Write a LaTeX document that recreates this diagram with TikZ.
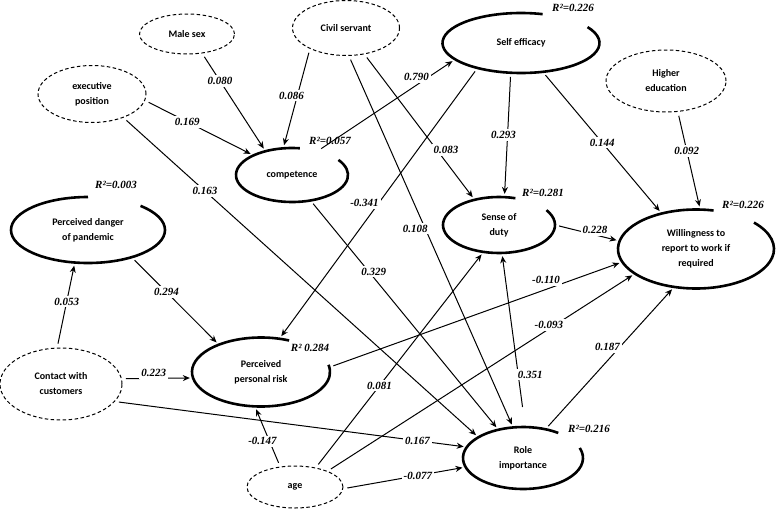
\documentclass[tikz,border=0pt]{standalone}
\usepackage{fontspec}
\setmainfont{Carlito}
\newfontfamily\coeffont{Liberation Serif}
\usetikzlibrary{arrows.meta}
\usetikzlibrary{shapes.geometric}
\tikzset{>={Stealth[length=7pt,width=6pt]}}
\tikzset{
  manifest/.style={ellipse, draw, line width=1pt, dash pattern=on 3.5pt off 2.5pt, inner sep=0pt, align=center, font=\fontsize{10}{15}\selectfont\bfseries},
  latent/.style={ellipse, inner sep=0pt, align=center, font=\fontsize{10}{15}\selectfont\bfseries},
  link/.style={->, line width=1pt, shorten <=4pt, shorten >=3pt},
  coef/.style={font=\coeffont\fontsize{11}{12}\selectfont\bfseries\itshape, fill=white, inner sep=2pt},
  rsq/.style={font=\coeffont\fontsize{11}{12}\selectfont\bfseries\itshape, inner sep=0pt}
}
% thick ring with a gap at top right: name, x radius, y radius, start, end
\newcommand{\latentring}[5]{\draw[line width=2.6pt] (#1.center) ++(#4:#2pt and #3pt) arc[start angle=#4, end angle=#5, x radius=#2pt, y radius=#3pt];}

\begin{document}
\begin{tikzpicture}[x=1pt, y=1pt]
      \useasboundingbox (0,0) rectangle (778,-514);
      % exogenous nodes
      \node[manifest, minimum width=95, minimum height=40] (male) at (187,-34) {Male sex};
      \node[manifest, minimum width=107, minimum height=55] (civil) at (346,-28) {Civil servant};
      \node[manifest, minimum width=108, minimum height=57] (exec) at (92,-94) {executive\\position};
      \node[manifest, minimum width=120, minimum height=62] (higher) at (666,-81) {Higher\\education};
      \node[manifest, minimum width=122, minimum height=72] (contact) at (61,-384) {Contact with\\customers};
      \node[manifest, minimum width=96, minimum height=42] (age) at (295,-487) {age};
      % endogenous nodes
      \node[latent, minimum width=157, minimum height=60] (selfeff) at (521,-43) {Self efficacy};
      \node[latent, minimum width=112, minimum height=54] (comp) at (292,-175) {competence};
      \node[latent, minimum width=154, minimum height=66] (danger) at (88,-230) {Perceived danger\\of pandemic};
      \node[latent, minimum width=112, minimum height=56] (duty) at (499,-225) {Sense of\\duty};
      \node[latent, minimum width=156, minimum height=79] (will) at (696,-249) {Willingness to\\report to work if\\required};
      \node[latent, minimum width=138, minimum height=69] (risk) at (261,-372) {Perceived\\personal risk};
      \node[latent, minimum width=120, minimum height=62] (role) at (523,-458) {Role\\importance};
      \latentring{selfeff}{78.5}{30}{74}{392}
      \latentring{comp}{56}{27}{82}{394}
      \latentring{danger}{77}{33}{90}{407}
      \latentring{duty}{56}{28}{73}{392}
      \latentring{will}{78}{39.5}{77}{402}
      \latentring{risk}{69}{34.5}{66}{372}
      \latentring{role}{60}{31}{54}{379}
      % R squared
      \node[rsq] (rselfeff) at (573,-8) {R²=0.226};
      \node[rsq] (rcomp) at (330,-141) {R²=0.057};
      \node[rsq] (rdanger) at (116,-185) {R²=0.003};
      \node[rsq] (rduty) at (543,-193) {R²=0.281};
      \node[rsq] (rwill) at (743,-205) {R²=0.226};
      \node[rsq] (rrisk) at (310,-348) {R² 0.284};
      \node[rsq] (rrole) at (589,-429) {R²=0.216};
      % paths
      \draw[link] (male.-52) -- node[coef, pos=0.28] {0.080} (comp.138);
      \draw[link] (civil.-150) -- node[coef, pos=0.47, xshift=-6pt] {0.086} (comp.108);
      \draw[link] (exec.-7) -- node[coef, pos=0.39] {0.169} (comp.153);
      \draw[link] (exec.-37) -- node[coef, pos=0.23] {0.163} (role.155);
      \draw[link] (comp.43) -- node[coef, pos=0.72, yshift=8pt] {0.790} (selfeff.194);
      \draw[link] (comp.-54) -- node[coef, pos=0.31, xshift=5pt] {0.329} (role.131);
      \draw[link] (civil.-84) -- node[coef, pos=0.465, xshift=-10pt] {0.108} (role.108);
      \draw[link] (civil.-55) -- node[coef, pos=0.66, xshift=9pt] {0.083} (duty.134);
      \draw[link] (selfeff.210) -- node[coef, pos=0.5, xshift=-14pt] {-0.341} (risk.61);
      \draw[link] (selfeff.-109) -- node[coef, pos=0.5, xshift=-4pt] {0.293} (duty.79);
      \draw[link] (selfeff.-53) -- node[coef, pos=0.5] {0.144} (will.134);
      \draw[link] (higher.-69) -- node[coef, pos=0.4] {0.092} (will.84);
      \draw[link] (duty.0) -- node[coef, pos=0.62, yshift=5pt] {0.228} (will.174);
      \draw[link] (danger.-32) -- node[coef, pos=0.4] {0.294} (risk.147);
      \draw[link] (contact.96) -- node[coef, pos=0.54] {0.053} (danger.-112);
      \draw[link] (contact.5) -- node[coef, pos=0.45, yshift=5pt] {0.223} (risk.185);
      \draw[link] (contact.-18) -- node[coef, pos=0.86] {0.167} (role.169);
      \draw[link] (risk.4) -- node[coef, pos=0.74, yshift=9pt] {-0.110} (will.190);
      \draw[link] (age.26) -- node[coef, pos=0.72, yshift=4pt] {-0.093} (will.202);
      \draw[link] (age.43) -- node[coef, pos=0.38] {0.081} (duty.240);
      \draw[link] (age.-2) -- node[coef, pos=0.61] {-0.077} (role.189);
      \draw[link] (age.126) -- node[coef, pos=0.42, xshift=-7pt] {-0.147} (risk.260);
      \draw[link, shorten <=20pt] (role.86) -- node[coef, pos=0.3, xshift=12pt] {0.351} (duty.-84);
      \draw[link] (role.52) -- node[coef, pos=0.52, xshift=-5pt, yshift=8pt] {0.187} (will.240);
    \end{tikzpicture}
\end{document}
